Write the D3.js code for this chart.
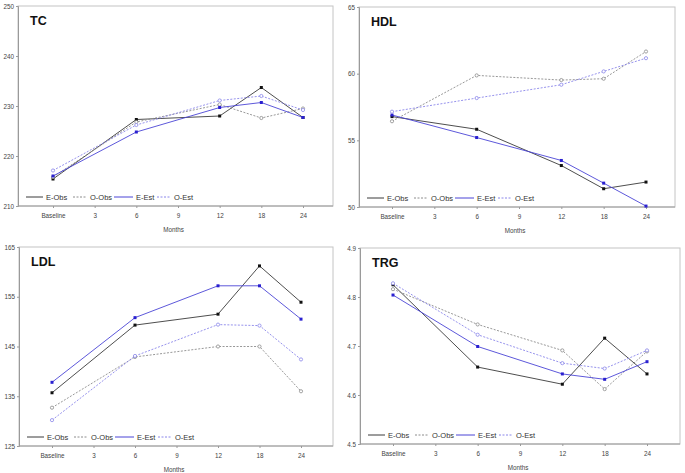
<!DOCTYPE html>
<html><head><meta charset="utf-8">
<script src="https://cdn.jsdelivr.net/npm/d3@7"></script>
<style>body{margin:0;background:#fff}svg{display:block}text{font-family:Arial,"Liberation Sans",sans-serif}</style>
</head><body>
<script>
const months = ["Baseline","3","6","9","12","18","24"];
const pointMonths = ["Baseline","6","12","18","24"];
const seriesNames = ["E-Obs","O-Obs","E-Est","O-Est"];

const tcTicks = [210,220,230,240,250];
const tcEObs = [215.4,227.3,228.0,233.7,227.7];
const tcOObs = [215.8,226.8,230.3,227.6,229.5];
const tcEEst = [216.0,224.8,229.7,230.7,227.7];
const tcOEst = [217.1,226.2,231.1,232.0,229.2];

const hdlTicks = [50,55,60,65];
const hdlEObs = [56.78,55.83,53.11,51.37,51.87];
const hdlOObs = [56.43,59.87,59.52,59.62,61.66];
const hdlEEst = [56.90,55.21,53.49,51.79,50.07];
const hdlOEst = [57.15,58.17,59.17,60.17,61.16];

const ldlTicks = [125,135,145,155,165];
const ldlEObs = [135.7,149.3,151.5,161.2,153.9];
const ldlOObs = [132.7,142.9,145.0,145.0,136.0];
const ldlEEst = [137.8,150.8,157.2,157.2,150.5];
const ldlOEst = [130.2,143.1,149.4,149.2,142.4];

const trgTicks = [4.5,4.6,4.7,4.8,4.9];
const trgEObs = [4.825,4.657,4.622,4.716,4.643];
const trgOObs = [4.816,4.744,4.691,4.612,4.689];
const trgEEst = [4.804,4.699,4.643,4.632,4.668];
const trgOEst = [4.828,4.723,4.665,4.654,4.691];

const styles = [
  {color:"#3a3a3a", dash:null, filled:true},
  {color:"#8c8c8c", dash:"2,1.5", filled:false},
  {color:"#4b45d6", dash:null, filled:true},
  {color:"#8a86ea", dash:"2,1.5", filled:false}
];

const panels = [
  {title:"TC", ticks:tcTicks, fmt:d3.format("d"), data:[tcEObs,tcOObs,tcEEst,tcOEst], x0:18,x1:333,y0:6,y1:206, px0:53,px1:303},
  {title:"HDL", ticks:hdlTicks, fmt:d3.format("d"), data:[hdlEObs,hdlOObs,hdlEEst,hdlOEst], x0:359,x1:675,y0:7,y1:207, px0:392,px1:646},
  {title:"LDL", ticks:ldlTicks, fmt:d3.format("d"), data:[ldlEObs,ldlOObs,ldlEEst,ldlOEst], x0:19,x1:333,y0:247,y1:446, px0:52,px1:301},
  {title:"TRG", ticks:trgTicks, fmt:d3.format(".1f"), data:[trgEObs,trgOObs,trgEEst,trgOEst], x0:360,x1:680,y0:248,y1:444, px0:393,px1:647}
];

const svg = d3.select("body").append("svg").attr("width",685).attr("height",473);

panels.forEach(p=>{
  const g = svg.append("g");
  const x = d3.scalePoint().domain(months).range([p.px0,p.px1]);
  const y = d3.scaleLinear().domain(d3.extent(p.ticks)).range([p.y1,p.y0]);
  // frame
  g.append("rect").attr("x",p.x0).attr("y",p.y0).attr("width",p.x1-p.x0).attr("height",p.y1-p.y0)
    .attr("fill","none").attr("stroke","#c4c4c4").attr("stroke-width",1);
  // y axis
  const ya = g.append("g").attr("transform",`translate(${p.x0},0)`)
    .call(d3.axisLeft(y).tickValues(p.ticks).tickFormat(p.fmt).tickSize(2).tickPadding(2));
  ya.select(".domain").attr("stroke","#9a9a9a");
  ya.selectAll(".tick line").attr("stroke","#9a9a9a");
  ya.selectAll("text").attr("font-size",6.3).attr("fill","#444");
  // x axis
  const xa = g.append("g").attr("transform",`translate(0,${p.y1})`)
    .call(d3.axisBottom(x).tickSize(2).tickPadding(6));
  xa.select(".domain").attr("stroke","#9a9a9a").attr("d",`M${p.x0},0H${p.x1}`);
  xa.selectAll(".tick line").attr("stroke","#9a9a9a");
  xa.selectAll("text").attr("font-size",6.3).attr("fill","#444");
  g.append("text").attr("x",(p.x0+p.x1)/2 - 2).attr("y",p.y1+26).attr("text-anchor","middle")
    .attr("font-size",6.3).attr("fill","#444").text("Months");
  // title
  g.append("text").attr("x",p.x0+12).attr("y",p.y0+19).attr("font-size",12.5).attr("font-weight","bold")
    .attr("fill","#111").text(p.title);
  // series
  const line = d3.line().x((d,i)=>x(pointMonths[i])).y(d=>y(d));
  p.data.forEach((vals,si)=>{
    const s = styles[si];
    g.append("path").attr("d",line(vals)).attr("fill","none").attr("stroke",s.color)
      .attr("stroke-width",0.9).attr("stroke-dasharray",s.dash);
    vals.forEach((v,i)=>{
      if(s.filled){
        g.append("rect").attr("x",x(pointMonths[i])-1.5).attr("y",y(v)-1.5).attr("width",3).attr("height",3)
          .attr("fill",s.color==="#3a3a3a"?"#111":"#2a20d0");
      } else {
        g.append("circle").attr("cx",x(pointMonths[i])).attr("cy",y(v)).attr("r",1.6)
          .attr("fill","#fff").attr("stroke",s.color).attr("stroke-width",0.8);
      }
    });
  });
  // legend
  const offs = [8,55,96,139];
  const lens = [17,14,19,14];
  const ly = p.y1 - 9;
  seriesNames.forEach((n,si)=>{
    const s = styles[si];
    const lx = p.x0 + offs[si];
    g.append("line").attr("x1",lx).attr("x2",lx+lens[si]).attr("y1",ly).attr("y2",ly)
      .attr("stroke",s.color).attr("stroke-width",1).attr("stroke-dasharray",s.dash);
    g.append("text").attr("x",lx+lens[si]+3).attr("y",ly+2.6).attr("font-size",7.5).attr("fill","#333").text(n);
  });
});
</script>
</body></html>
